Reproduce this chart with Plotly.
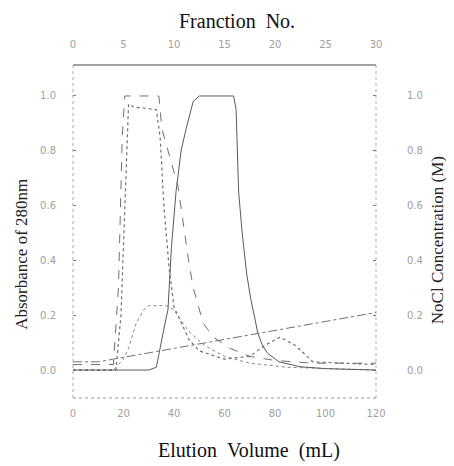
import plotly.graph_objects as go

# ---- data (elution volume in mL) ----
volume_a = [0, 16, 18, 19.5, 20.5, 34, 35.2, 38.4, 41.6, 43.6, 45.6, 47.6, 51.6, 55.6, 62, 70, 80, 95, 120]
abs_a = [0.02, 0.02, 0.3, 0.85, 1.0, 1.0, 0.88, 0.77, 0.67, 0.54, 0.41, 0.30, 0.17, 0.12, 0.08, 0.05, 0.035, 0.025, 0.025]

volume_b = [0, 17, 19, 20.5, 22, 24, 33, 34.5, 36, 38, 40, 44, 46, 50, 60, 70, 76, 82, 88, 95, 120]
abs_b = [0.0, 0.0, 0.2, 0.6, 0.97, 0.96, 0.95, 0.85, 0.6, 0.38, 0.23, 0.15, 0.11, 0.07, 0.04, 0.05, 0.09, 0.12, 0.09, 0.03, 0.02]

volume_c = [0, 16, 20, 22, 25, 28, 30, 37, 40, 42, 46, 52, 60, 70, 85, 120]
abs_c = [0.0, 0.0, 0.04, 0.08, 0.17, 0.22, 0.235, 0.235, 0.22, 0.19, 0.14, 0.09, 0.05, 0.025, 0.01, 0.0]

volume_d = [0, 30, 33, 34.8, 36, 37.6, 39, 40.8, 42.8, 44.8, 47.6, 50, 63.6, 64.6, 65, 65.6, 67, 68.8,
            70.4, 72, 73.2, 75, 77.2, 81.6, 90, 100, 120]
abs_d = [0.0, 0.0, 0.01, 0.1, 0.15, 0.22, 0.45, 0.65, 0.8, 0.88, 0.98, 1.0, 1.0, 0.95, 0.8, 0.65, 0.5, 0.35,
         0.26, 0.19, 0.135, 0.09, 0.06, 0.03, 0.012, 0.005, 0.0]

volume_nacl = [0, 10, 120]
nacl = [0.03, 0.03, 0.21]

x_ticks = [0, 20, 40, 60, 80, 100, 120]
fraction_ticks = [0, 5, 10, 15, 20, 25, 30]
y_ticks = [0.0, 0.2, 0.4, 0.6, 0.8, 1.0]
y_ticktext = ["0.0", "0.2", "0.4", "0.6", "0.8", "1.0"]

Y_RANGE = [-0.102, 1.113]
SERIF = "Liberation Serif, Times New Roman, serif"
TICKFONT = dict(family="DejaVu Sans, sans-serif", size=10, color="#a0a0a0")
NB = "\u00a0"

fig = go.Figure()

def add(x, y, dash, color, width=1.0, yaxis="y"):
    fig.add_trace(go.Scatter(x=x, y=y, mode="lines", yaxis=yaxis,
                             line=dict(color=color, width=width, dash=dash),
                             showlegend=False, hoverinfo="skip"))

add(volume_a, abs_a, "dash", "#707070")
add(volume_b, abs_b, "dot", "#707070", 1.2)
add(volume_c, abs_c, "dot", "#858585", 1.0)
add(volume_d, abs_d, "solid", "#5a5a5a", 1.0)
add(volume_nacl, nacl, "dashdot", "#707070", 1.0, yaxis="y2")

# invisible trace to activate the top fraction axis
fig.add_trace(go.Scatter(x=[0, 30], y=[None, None], xaxis="x2", mode="lines",
                         showlegend=False, hoverinfo="skip"))

# page body has an 8px default margin: compensate so the plot frame lands at
# x 73..376, y 65..398 in the window
fig.update_layout(
    width=454, height=466,
    margin=dict(l=65, r=86, t=57, b=76),
    paper_bgcolor="white", plot_bgcolor="white",
    xaxis=dict(range=[0, 120], tickvals=x_ticks, showgrid=False, zeroline=False,
               showline=False, ticks="", tickfont=TICKFONT, ticklabelstandoff=8),
    xaxis2=dict(range=[0, 30], tickvals=fraction_ticks, overlaying="x", side="top",
                showgrid=False, zeroline=False, showline=False, ticks="",
                tickfont=TICKFONT, ticklabelstandoff=14),
    yaxis=dict(range=Y_RANGE, tickvals=y_ticks, ticktext=y_ticktext, showgrid=False,
               zeroline=False, showline=False, ticks="inside", ticklen=3,
               tickcolor="#777", tickfont=TICKFONT, ticklabelstandoff=16),
    yaxis2=dict(range=Y_RANGE, tickvals=y_ticks, ticktext=y_ticktext, overlaying="y",
                side="right", showgrid=False, zeroline=False, showline=False,
                ticks="inside", ticklen=3, tickcolor="#777", tickfont=TICKFONT,
                ticklabelstandoff=30),
)

frame = [
    dict(x0=0, x1=1, y0=1, y1=1, dash="solid", color="#444", width=1.2),
    dict(x0=0, x1=1, y0=0, y1=0, dash="dot", color="#999", width=1),
    dict(x0=0, x1=0, y0=0, y1=1, dash="dot", color="#aaa", width=1),
    dict(x0=1, x1=1, y0=0, y1=1, dash="dot", color="#aaa", width=1),
]
for f in frame:
    fig.add_shape(type="line", xref="paper", yref="paper",
                  x0=f["x0"], x1=f["x1"], y0=f["y0"], y1=f["y1"],
                  line=dict(color=f["color"], width=f["width"], dash=f["dash"]))

fig.add_annotation(text=f"Franction{NB}{NB}No.", xref="paper", yref="paper", x=0.5, y=1.0,
                   xshift=12, yshift=44, xanchor="center", yanchor="middle", showarrow=False,
                   font=dict(family=SERIF, size=20, color="#111"))
fig.add_annotation(text=f"Elution{NB}{NB}Volume{NB}{NB}(mL)", xref="paper", yref="paper",
                   x=0.5, y=0.0, xshift=24, yshift=-52, xanchor="center", yanchor="middle",
                   showarrow=False, font=dict(family=SERIF, size=20, color="#111"))
fig.add_annotation(text="Absorbance of 280nm", xref="paper", yref="paper", x=0.0, y=0.43,
                   xshift=-51, xanchor="center", yanchor="middle", textangle=-90,
                   showarrow=False, font=dict(family=SERIF, size=17, color="#222"))
fig.add_annotation(text="NoCl Concentration (M)", xref="paper", yref="paper", x=1.0, y=0.474,
                   xshift=61, xanchor="center", yanchor="middle", textangle=-90,
                   showarrow=False, font=dict(family=SERIF, size=17, color="#222"))

fig.write_html("out.html")
